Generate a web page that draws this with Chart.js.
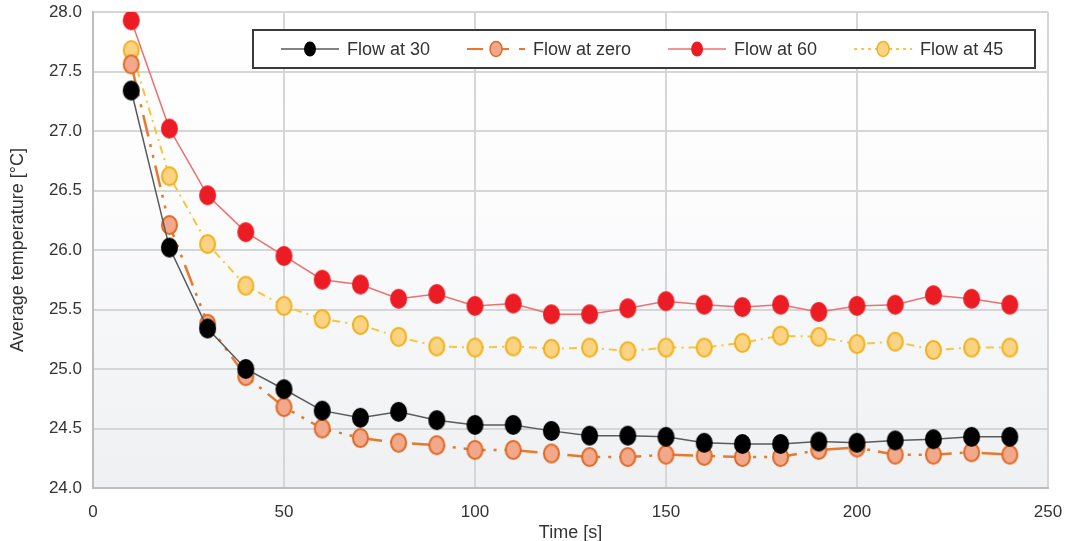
<!DOCTYPE html>
<html>
<head>
<meta charset="utf-8">
<script src="https://cdn.jsdelivr.net/npm/chart.js@4.4.0/dist/chart.umd.min.js"></script>
<style>
  html, body { margin: 0; padding: 0; background: #fff; }
  #wrap { width: 1081px; height: 541px; }
</style>
</head>
<body>
<div id="wrap"><canvas id="chart"></canvas></div>
<script>
// data
const times = [10, 20, 30, 40, 50, 60, 70, 80, 90, 100, 110, 120, 130, 140, 150, 160, 170, 180, 190, 200, 210, 220, 230, 240];
const flow30 = [27.34, 26.02, 25.34, 25.00, 24.83, 24.65, 24.59, 24.64, 24.57, 24.53, 24.53, 24.48, 24.44, 24.44, 24.43, 24.38, 24.37, 24.37, 24.39, 24.38, 24.40, 24.41, 24.43, 24.43];
const flowZero = [27.56, 26.21, 25.38, 24.94, 24.68, 24.50, 24.42, 24.38, 24.36, 24.32, 24.32, 24.29, 24.26, 24.26, 24.28, 24.27, 24.26, 24.26, 24.32, 24.34, 24.28, 24.28, 24.30, 24.28];
const flow60 = [27.93, 27.02, 26.46, 26.15, 25.95, 25.75, 25.71, 25.59, 25.63, 25.53, 25.55, 25.46, 25.46, 25.51, 25.57, 25.54, 25.52, 25.54, 25.48, 25.53, 25.54, 25.62, 25.59, 25.54];
const flow45 = [27.68, 26.62, 26.05, 25.70, 25.53, 25.42, 25.37, 25.27, 25.19, 25.18, 25.19, 25.17, 25.18, 25.15, 25.18, 25.18, 25.22, 25.28, 25.27, 25.21, 25.23, 25.16, 25.18, 25.18];

const seriesLabels = ['Flow at 30', 'Flow at zero', 'Flow at 60', 'Flow at 45'];
const xTicks = [0, 50, 100, 150, 200, 250];

const toPoints = arr => arr.map((v, i) => ({ x: times[i], y: v }));

const FONT = '"Liberation Sans", Arial, sans-serif';

// the markers in the original are slightly taller than wide
function ellipseMarker(w, h, fill, stroke, lw) {
    const c = document.createElement('canvas');
    c.width = w + 4;
    c.height = h + 4;
    const g = c.getContext('2d');
    g.beginPath();
    g.ellipse(c.width / 2, c.height / 2, w / 2, h / 2, 0, 0, Math.PI * 2);
    g.fillStyle = fill;
    g.fill();
    if (lw) {
        g.lineWidth = lw;
        g.strokeStyle = stroke;
        g.stroke();
    }
    return c;
}

// light gradient behind the plot area
const plotBackground = {
    id: 'plotBackground',
    beforeDraw(chart) {
        const { ctx, chartArea: a } = chart;
        const g = ctx.createLinearGradient(0, a.top, 0, a.bottom);
        g.addColorStop(0, '#ffffff');
        g.addColorStop(0.4, '#fcfcfd');
        g.addColorStop(1, '#eef0f2');
        ctx.save();
        ctx.fillStyle = g;
        ctx.fillRect(a.left, a.top, a.right - a.left, a.bottom - a.top);
        ctx.restore();
    }
};

// boxed legend sitting inside the plot
const boxLegend = {
    id: 'boxLegend',
    afterDraw(chart) {
        const { ctx } = chart;
        const box = { left: 253, top: 30, right: 1035, bottom: 68 };
        const cy = (box.top + box.bottom) / 2;
        ctx.save();
        ctx.fillStyle = '#ffffff';
        ctx.fillRect(box.left, box.top, box.right - box.left, box.bottom - box.top);
        ctx.strokeStyle = '#3a3a3a';
        ctx.lineWidth = 2;
        ctx.strokeRect(box.left, box.top, box.right - box.left, box.bottom - box.top);

        ctx.font = '18px ' + FONT;
        ctx.textBaseline = 'middle';
        let x = box.left + 28;
        chart.data.datasets.forEach(ds => {
            ctx.save();
            ctx.strokeStyle = ds.borderColor;
            ctx.lineWidth = Math.min(ds.borderWidth, 2);
            ctx.setLineDash(ds.legendDash || []);
            ctx.beginPath();
            ctx.moveTo(x, cy);
            ctx.lineTo(x + 58, cy);
            ctx.stroke();
            ctx.setLineDash([]);
            ctx.beginPath();
            ctx.ellipse(x + 29, cy, 6, 7.5, 0, 0, Math.PI * 2);
            ctx.fillStyle = ds.markerFill;
            ctx.fill();
            if (ds.markerStroke) {
                ctx.lineWidth = 1.5;
                ctx.strokeStyle = ds.markerStroke;
                ctx.stroke();
            }
            ctx.restore();
            ctx.fillStyle = '#333';
            ctx.fillText(ds.label, x + 66, cy + 1);
            x += 66 + ctx.measureText(ds.label).width + 37;
        });
        ctx.restore();
    }
};

new Chart(document.getElementById('chart'), {
    type: 'line',
    data: {
        datasets: [
            {
                label: seriesLabels[0],
                data: toPoints(flow30),
                borderColor: '#5a5a5a',
                borderWidth: 1.5,
                pointStyle: ellipseMarker(17, 20, '#000000'),
                pointRadius: 9,
                markerFill: '#000000'
            },
            {
                label: seriesLabels[1],
                data: toPoints(flowZero),
                borderColor: '#e8782e',
                borderWidth: 2.5,
                borderDash: [22, 8, 3, 8, 3, 8],
                legendDash: [16, 10],
                pointStyle: ellipseMarker(15, 18, '#f2a88a', '#e06a24', 2),
                pointRadius: 8,
                markerFill: '#f2a88a',
                markerStroke: '#e06a24'
            },
            {
                label: seriesLabels[2],
                data: toPoints(flow60),
                borderColor: '#ef7070',
                borderWidth: 1.5,
                pointStyle: ellipseMarker(17, 20, '#ec1c24'),
                pointRadius: 9,
                markerFill: '#ec1c24'
            },
            {
                label: seriesLabels[3],
                data: toPoints(flow45),
                borderColor: '#f5c63e',
                borderWidth: 2,
                borderDash: [8, 5, 2, 5],
                legendDash: [3, 4],
                pointStyle: ellipseMarker(15, 18, '#fcd383', '#f0b21a', 2),
                pointRadius: 8,
                markerFill: '#fcd383',
                markerStroke: '#f0b21a'
            }
        ]
    },
    options: {
        responsive: true,
        maintainAspectRatio: false,
        animation: false,
        layout: { padding: { left: 0, top: 12, right: 33, bottom: 0 } },
        elements: { line: { tension: 0 } },
        plugins: {
            legend: { display: false },
            tooltip: { enabled: false }
        },
        scales: {
            x: {
                type: 'linear',
                min: 0,
                max: 250,
                afterBuildTicks: scale => { scale.ticks = xTicks.map(v => ({ value: v })); },
                afterFit: scale => { scale.height = 53; },
                grid: { color: '#d6d6d6', lineWidth: 2, drawTicks: false },
                border: { color: '#bdbdbd', width: 2 },
                ticks: { padding: 14, color: '#333', font: { family: FONT, size: 17 } },
                title: {
                    display: true,
                    text: 'Time [s]',
                    color: '#333',
                    padding: { top: 0, bottom: -3 },
                    font: { family: FONT, size: 18 }
                }
            },
            y: {
                min: 24,
                max: 28,
                afterFit: scale => {
                    scale.width = 93;
                    scale.paddingTop = 0;
                    scale.paddingBottom = 0;
                },
                grid: { color: '#d6d6d6', lineWidth: 2, drawTicks: false },
                border: { color: '#bdbdbd', width: 2 },
                ticks: {
                    stepSize: 0.5,
                    padding: 11,
                    color: '#333',
                    font: { family: FONT, size: 17 },
                    callback: v => v.toFixed(1)
                },
                title: {
                    display: true,
                    text: 'Average temperature [°C]',
                    color: '#333',
                    padding: { top: 7, bottom: 0 },
                    font: { family: FONT, size: 18 }
                }
            }
        }
    },
    plugins: [plotBackground, boxLegend]
});
</script>
</body>
</html>
